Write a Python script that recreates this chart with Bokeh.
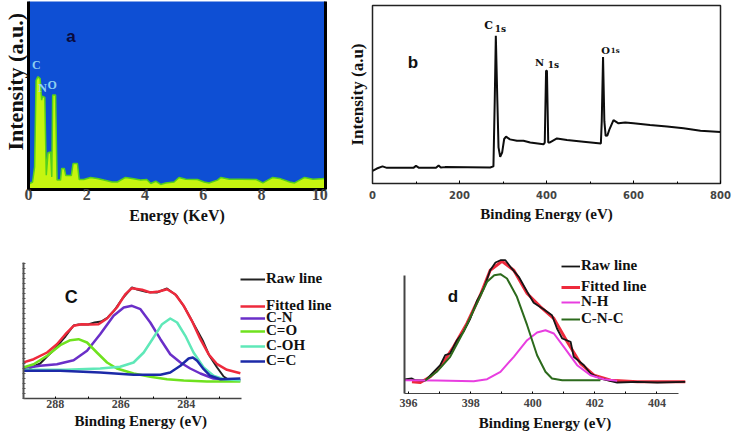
from bokeh.plotting import figure
from bokeh.models import FixedTicker, Label, Legend, LegendItem, LinearAxis, Range1d, Title
from bokeh.layouts import column, row
from bokeh.embed import file_html
from bokeh.resources import INLINE

# a: EDS spectrum
eds_energy = [0, .14, .21, .26, .32, .40, .45, .48, .56, .61, .67, .76, .80, .83, .93, .98, 1.10, 1.14, 1.23,
              1.28, 1.47, 1.53, 1.68, 1.74, 1.9, 2.13, 2.36, 2.59, 2.87, 3.05, 3.33, 3.56, 3.85, 4.06, 4.2,
              4.37, 4.54, 4.71, 5, 5.17, 5.4, 5.8, 6.03, 6.2, 6.49, 6.61, 6.9, 7.3, 7.82, 8.05, 8.39, 8.62,
              8.97, 9.14, 9.48, 9.77, 10.2]
eds_counts = [2.8, 4, 12, 58, 60, 59, 47.5, 49.6, 49, 7.6, 19.5, 19.9, 6.7, 50.2, 50.2, 5, 5, 11.2, 11.2,
              7.4, 7.4, 13.8, 13.8, 5.3, 5.3, 6.4, 5.9, 5, 4, 4, 6.4, 5.9, 5, 5.3, 3.2,
              4.4, 2.7, 3.5, 4, 6.4, 5.5, 5.3, 4, 3.5, 5, 6.4, 5.5, 5.5, 5.3, 3.5, 6.4, 5.9,
              4, 3.5, 6.4, 5.5, 5.9]

# b: XPS survey
survey_be = [0, 10, 23, 33, 94, 100, 107, 146, 152, 157, 167, 270.5, 278, 281, 283.5, 287, 289.7, 293.5, 298,
             302.7, 307, 316, 332, 347, 362.5, 393, 396, 399, 401, 404, 407, 424, 447, 485, 525, 527, 530, 533,
             536, 540, 545, 554, 565.5, 581, 600, 638, 677, 715, 754, 800]
survey_int = [7.1, 8.4, 9.6, 8.8, 8.8, 9.9, 8.8, 8.8, 10.1, 9, 9.2, 9, 9.6, 46.5, 83, 46.5, 20.3, 15, 17.4,
              25, 26.3, 24.8, 24, 24, 23, 22, 23, 63.4, 63.4, 23, 23, 25.3, 24.4, 23.5, 22.5, 35, 71, 35,
              26.8, 27, 30.6, 35.6, 33.8, 34.3, 33.8, 32.8, 32, 31, 29.6, 29]

# c: C1s
c_raw_be = [288.8, 288.46, 288.25, 288.0, 287.8, 287.69, 287.44, 287.29, 287.0, 286.8, 286.6, 286.4, 286.2, 285.95,
            285.66, 285.5, 285.2, 284.9, 284.59, 284.3, 284.05, 283.8, 283.5, 283.3, 283.06, 282.86, 282.72]
c_raw = [30, 35, 42, 50, 58, 62, 73, 74, 74, 76, 77, 81, 88, 100, 111, 109, 106.5, 106, 110, 103, 91, 76, 58, 43, 31, 22, 19]
c_fit_be = [288.99, 288.66, 288.25, 287.95, 287.69, 287.44, 287.19, 286.93, 286.68, 286.42, 286.12, 285.86, 285.66,
            285.35, 285.10, 284.84, 284.59, 284.34, 284.08, 283.83, 283.57, 283.32, 283.06, 282.76, 282.35]
c_fit = [36, 39.3, 46, 54.3, 64.3, 72.7, 74.3, 74, 74.3, 80, 91, 104.3, 110.3, 108.7, 106, 107, 109.3, 104.3, 92.7,
         77.7, 59.3, 44.3, 34.3, 28.7, 25.3]
cn_be = [288.99, 288.46, 287.95, 287.44, 287.03, 286.63, 286.22, 285.91, 285.66, 285.40, 285.10, 284.79, 284.49,
         284.18, 283.88, 283.57, 283.17, 282.76, 282.35]
cn = [30.3, 32.7, 34.3, 38.3, 47.7, 64.3, 82.7, 91, 92.7, 89.3, 76, 59.3, 44.3, 36, 30, 25, 20, 18.7, 18.3]
co_be = [288.99, 288.66, 288.25, 287.85, 287.54, 287.29, 287.03, 286.73, 286.42, 286.12, 285.61, 285.10, 284.59,
         284.08, 283.37, 282.35]
co = [31, 34.3, 42.7, 53.3, 58.3, 59.3, 56, 46, 36, 30, 25, 21.7, 19.3, 18, 17, 17]
coh_be = [288.99, 287.69, 286.63, 286.02, 285.61, 285.30, 285.00, 284.74, 284.49, 284.28, 284.03, 283.78, 283.47,
          283.17, 282.86, 282.35]
coh = [28.7, 28.7, 30, 31.7, 36, 46, 61, 74.3, 80, 76, 62.7, 46, 31, 22.7, 19.3, 18.3]
cc_be = [288.99, 287.85, 286.63, 285.61, 284.79, 284.49, 284.18, 283.93, 283.80, 283.67, 283.47, 283.27, 282.96, 282.35]
cc = [27.7, 27.7, 26, 23.7, 23.7, 26, 32.7, 40, 41, 37.7, 29.3, 22.7, 19.3, 20]

# d: N1s
n_raw_be = [395.87, 396.11, 396.22, 396.54, 396.81, 397.02, 397.18, 397.34, 397.56, 397.77, 397.99, 398.20, 398.42,
            398.63, 398.80, 398.96, 399.12, 399.28, 399.55, 399.82, 400.03, 400.35, 400.62, 400.78, 400.95, 401.22,
            401.32, 401.65, 401.86, 402.18, 402.72, 403.37, 404.01, 404.92]
n_raw = [14, 15, 13.3, 13, 21.7, 28.3, 38.3, 40, 53.3, 61.7, 75, 92.3, 105, 123.3, 131, 133.3, 133.3, 126.7, 116.7,
         101.7, 90.7, 84.3, 78.3, 65, 55, 51.7, 36.7, 28.3, 20, 15, 11, 11.7, 11, 11.7]
n_fit_be = [396.11, 396.38, 396.70, 397.02, 397.45, 397.88, 398.31, 398.63, 399.01, 399.39, 399.82, 400.25, 400.68,
            401.11, 401.54, 401.97, 402.51, 403.37, 404.92]
n_fit = [11.7, 11, 16.7, 26.7, 46.7, 70, 98.3, 123.3, 132.3, 123.3, 100, 86.7, 75, 51.7, 30, 18.3, 13.3, 11.7, 11.7]
nh_be = [395.89, 396.91, 398.10, 398.53, 398.96, 399.39, 399.82, 400.14, 400.41, 400.68, 401.0, 401.43, 401.86,
         402.29, 402.72]
nh = [13.3, 13, 12.3, 14.3, 21.7, 36.7, 53.3, 61, 63.3, 60, 46.7, 28.3, 18.3, 14.3, 12.7]
cnc_be = [396.54, 396.91, 397.34, 397.77, 398.2, 398.53, 398.76, 398.96, 399.17, 399.49, 399.82, 400.14, 400.41,
          400.62, 400.95, 402.18]
cnc = [13, 21.7, 36.7, 61.7, 90, 111.7, 118.3, 119.3, 115, 96.7, 68.3, 38.3, 21.7, 15, 13.3, 13.3]

SERIF = "Liberation Serif"


def panel(width, height, borders, x_range, y_range):
    top, right, bottom, left = borders
    p = figure(width=width, height=height, x_range=x_range, y_range=y_range, frame_align=False,
               output_backend="svg", toolbar_location=None,
               min_border_top=top, min_border_right=right, min_border_bottom=bottom, min_border_left=left)
    p.grid.visible = False
    p.outline_line_color = None
    p.xaxis.axis_label_text_font = SERIF
    p.xaxis.axis_label_text_font_style = "bold"
    p.xaxis.axis_label_text_font_size = "15px"
    p.xaxis.axis_label_text_color = "#111111"
    p.xaxis.major_label_text_font_style = "bold"
    p.xaxis.major_tick_out = 0
    p.xaxis.major_tick_in = 2
    p.xaxis.minor_tick_out = 0
    p.xaxis.minor_tick_in = 2
    p.yaxis.axis_label_text_font = SERIF
    p.yaxis.axis_label_text_font_style = "bold"
    p.yaxis.axis_label_text_font_size = "17px"
    p.yaxis.axis_label_text_color = "#111111"
    p.yaxis.major_tick_out = 0
    p.yaxis.major_tick_in = 0
    p.yaxis.minor_tick_out = 0
    p.yaxis.minor_tick_in = 0
    p.yaxis.major_label_standoff = 0
    p.xaxis.axis_label_standoff = 2
    p.yaxis.axis_label_standoff = 0
    return p


def tag(p, x, y, text, size, color="#111111", font=SERIF):
    p.add_layout(Label(x=x, y=y, text=text, text_font=font, text_font_style="bold", text_font_size=size,
                       text_color=color, text_align="center", text_baseline="middle"))


def key(p, renderer, text, x, y, width):
    p.add_layout(Legend(items=[LegendItem(label=text, renderers=[renderer])], location=(x, y), padding=0, margin=0,
                        glyph_width=width, glyph_height=14, label_height=14, label_standoff=1,
                        background_fill_alpha=0, border_line_alpha=0, label_text_font=SERIF,
                        label_text_font_style="bold", label_text_font_size="15px", label_text_color="#111111"))


# panel a
a = panel(340, 232, (1, 15, 43, 28), Range1d(0, 10.2), Range1d(0, 100))
a.background_fill_color = "#0e4fd4"
a.varea(eds_energy, 0, eds_counts, fill_color="#c6f510")
a.line(eds_energy, eds_counts, line_color="#55cf1c", line_width=1.5)
a.xaxis.ticker = FixedTicker(ticks=[0, 2, 4, 6, 8, 10])
a.yaxis.ticker = FixedTicker(ticks=[])
a.xaxis.major_tick_line_color = None
a.xaxis.minor_tick_line_color = None
a.xaxis.axis_line_width = 3
a.yaxis.axis_line_width = 3
a.xaxis.major_label_text_font = SERIF
a.xaxis.major_label_text_font_size = "16px"
a.xaxis.major_label_standoff = -1
a.xaxis.axis_label = "Energy (KeV)"
a.xaxis.axis_label_text_font_size = "16px"
a.xaxis.axis_label_standoff = 4
a.add_layout(Title(text="Intensity (a.u.)", align="left", offset=39, standoff=1, text_font=SERIF,
                   text_font_style="bold", text_font_size="22px", text_color="#111111"), "left")
a.add_layout(LinearAxis(ticker=FixedTicker(ticks=[]), axis_line_width=3, major_tick_out=0, major_label_standoff=0), "right")
tag(a, 1.46, 81.6, "a", "17px", font="Liberation Sans", color="#0a0a3c")
tag(a, .27, 66, "C", "12px", color="#8fd0f0")
tag(a, .48, 54, "N", "12px", color="#8fd0f0")
tag(a, .81, 55.5, "O", "12px", color="#8fd0f0")

# panel b
b = panel(394, 232, (5, 14, 49, 32), Range1d(0, 800), Range1d(0, 100))
b.outline_line_color = "#222222"
b.outline_line_width = 1.5
b.line(survey_be, survey_int, line_color="#0d0d0d", line_width=2)
b.xaxis.ticker = FixedTicker(ticks=[0, 200, 400, 600, 800], minor_ticks=[100, 300, 500, 700])
b.yaxis.ticker = FixedTicker(ticks=[])
b.xaxis.major_tick_in = 3
b.xaxis.axis_line_color = "#222222"
b.yaxis.axis_line_color = "#222222"
b.xaxis.major_label_text_font = "DejaVu Sans"
b.xaxis.major_label_text_font_size = "10px"
b.xaxis.major_label_standoff = 7
b.xaxis.axis_label = "Binding Energy (eV)"
b.xaxis.axis_label_standoff = 4
b.yaxis.axis_label = "Intensity (a.u)"
b.yaxis.axis_label_standoff = 6
tag(b, 92.7, 68, "b", "17px", font="Liberation Sans")
tag(b, 266.7, 88.7, "C", "11px", font="DejaVu Serif")
tag(b, 294, 87, "1s", "9px", font="DejaVu Serif")
tag(b, 384, 68, "N", "10px", font="DejaVu Serif")
tag(b, 416, 66.6, "1s", "9px", font="DejaVu Serif")
tag(b, 536, 75, "O", "10px", font="DejaVu Serif")
tag(b, 558, 74.5, "1s", "7px", font="DejaVu Serif")

# panel c, the frame runs on under the legend
c = panel(370, 202, (30, 5, 36, 23), Range1d(288.97, 278.53), Range1d(0, 136))
c_raw_line = c.line(c_raw_be, c_raw, line_color="#222222", line_width=2)
c_fit_line = c.line(c_fit_be, c_fit, line_color="#ee2a3c", line_width=2.5, line_join="round")
cn_line = c.line(cn_be, cn, line_color="#6a2fc8", line_width=2.5, line_join="round")
co_line = c.line(co_be, co, line_color="#6fe21e", line_width=2.5, line_join="round")
coh_line = c.line(coh_be, coh, line_color="#5fe8b8", line_width=2.5, line_join="round")
cc_line = c.line(cc_be, cc, line_color="#1c2aa8", line_width=2.5, line_join="round")
c.xaxis.bounds = (288.97, 282.33)
c.xaxis.ticker = FixedTicker(ticks=[288, 286, 284], minor_ticks=[287, 285, 283])
c_yticks = list(range(0, 137, 5))
c.yaxis.ticker = FixedTicker(ticks=c_yticks)
c.yaxis.major_label_overrides = {t: "" for t in c_yticks}
c.yaxis.major_tick_in = 2
c.yaxis.major_tick_out = 1
c.yaxis.major_tick_line_color = "#555555"
c.yaxis.axis_line_color = "#555555"
c.yaxis.axis_line_width = 2
c.xaxis.axis_line_color = "#444444"
c.xaxis.axis_line_width = 1.5
c.xaxis.major_label_text_font = SERIF
c.xaxis.major_label_text_font_size = "12px"
c.xaxis.major_label_standoff = 1
c.add_layout(Title(text="Binding Energy (eV)", align="left", offset=51, standoff=0, text_font=SERIF,
                   text_font_style="bold", text_font_size="15px", text_color="#111111"), "below")
tag(c, 287.51, 101.7, "C", "18px", font="Liberation Sans")
key(c, c_raw_line, "Raw line", 217, 111, 25)
key(c, c_fit_line, "Fitted line", 217, 84, 25)
key(c, cn_line, "C-N", 217, 72, 25)
key(c, co_line, "C=O", 217, 59, 25)
key(c, coh_line, "C-OH", 217, 44, 25)
key(c, cc_line, "C=C", 217, 29, 25)

# panel d
d = panel(364, 202, (23, 49, 41, 34), Range1d(395.87, 404.92), Range1d(0, 138))
n_fit_line = d.line(n_fit_be, n_fit, line_color="#ee2a3c", line_width=3, line_join="round")
n_raw_line = d.line(n_raw_be, n_raw, line_color="#151515", line_width=1.8)
nh_line = d.line(nh_be, nh, line_color="#e83ee0", line_width=2, line_join="round")
cnc_line = d.line(cnc_be, cnc, line_color="#2c6a1c", line_width=2, line_join="round")
d.xaxis.bounds = (395.87, 404.7)
d.yaxis.bounds = (0, 118)
d.xaxis.ticker = FixedTicker(ticks=[396, 398, 400, 402, 404], minor_ticks=[397, 399, 401, 403])
d.yaxis.ticker = FixedTicker(ticks=[])
d.yaxis.axis_line_color = "#444444"
d.yaxis.axis_line_width = 2
d.xaxis.axis_line_color = "#444444"
d.xaxis.major_label_text_font = SERIF
d.xaxis.major_label_text_font_size = "12px"
d.xaxis.major_label_standoff = 5
d.xaxis.axis_label = "Binding Energy (eV)"
d.xaxis.axis_label_standoff = 5
tag(d, 397.43, 97.3, "d", "17px", font="Liberation Sans")
key(d, n_raw_line, "Raw line", 157, 119, 19)
key(d, n_fit_line, "Fitted line", 157, 98, 19)
key(d, nh_line, "N-H", 157, 83, 19)
key(d, cnc_line, "C-N-C", 157, 66, 19)

page = column(row(a, b, spacing=0), row(c, d, spacing=0), spacing=0)
open("out.html", "w").write(file_html(page, INLINE))
